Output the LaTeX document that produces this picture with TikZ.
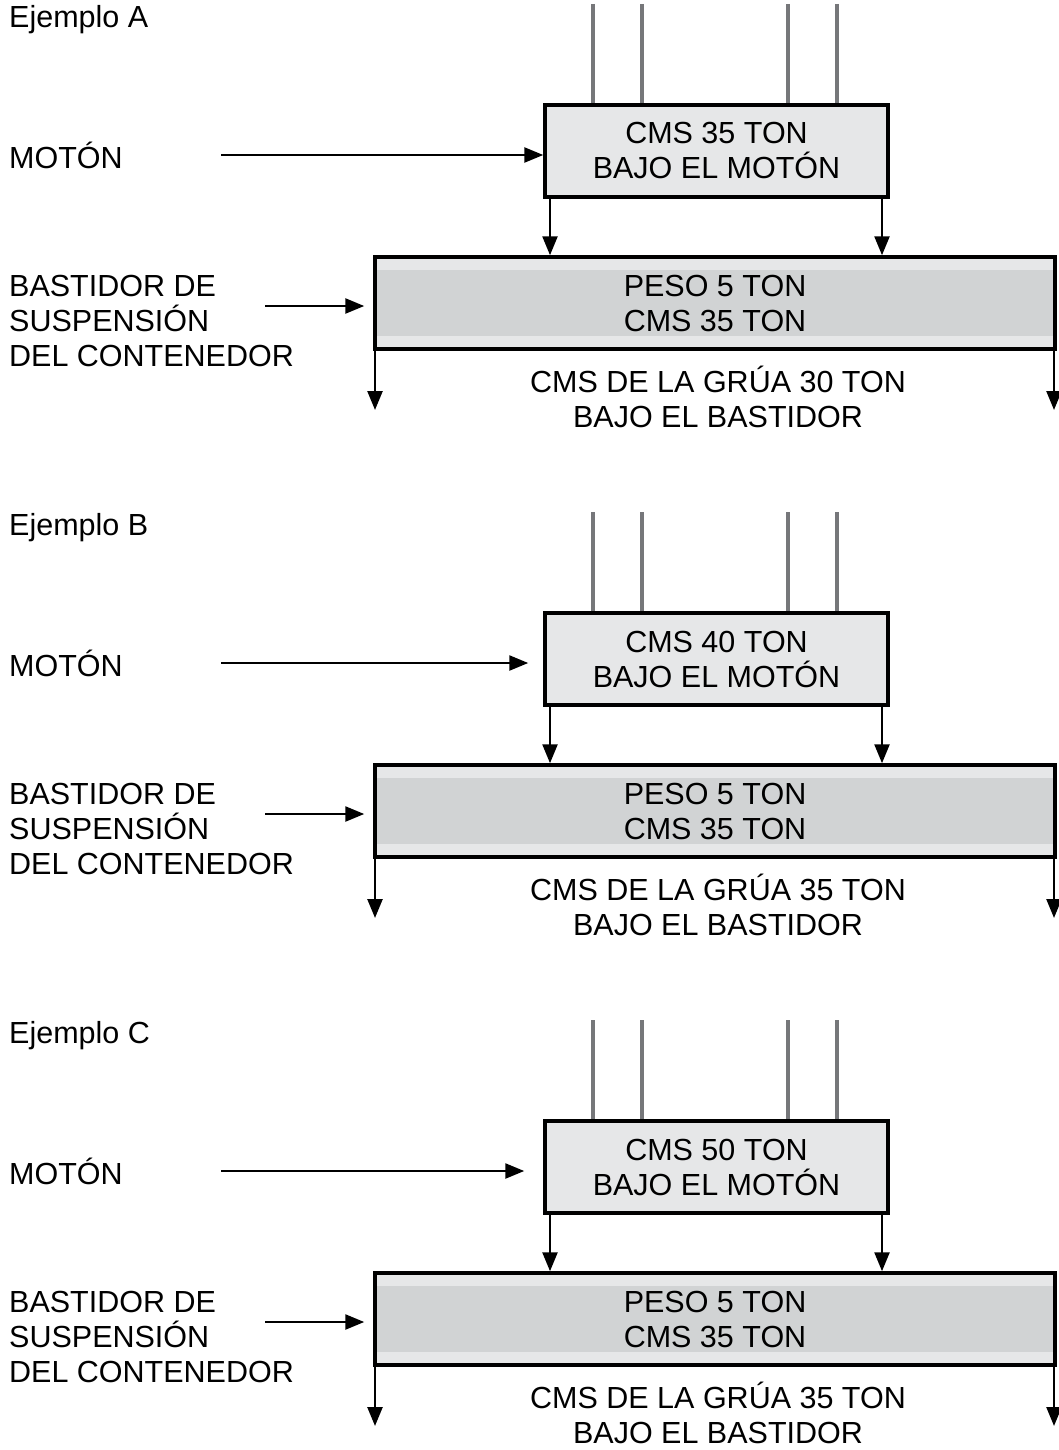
\documentclass[tikz,border=0pt]{standalone}
\usepackage{fontspec}
\setmainfont{Liberation Sans}
\usetikzlibrary{arrows.meta}
\definecolor{lightbox}{HTML}{E6E7E8}
\definecolor{midbox}{HTML}{D1D3D4}
\definecolor{rope}{HTML}{76777A}
\tikzset{
  txt/.style={font=\fontsize{30.5}{35}\selectfont, inner sep=0pt},
  motonbox/.style={draw=black, line width=3.5pt, fill=lightbox, minimum width=343pt, minimum height=92pt, inner sep=0pt, align=center, txt},
  bastbox/.style={draw=black, line width=3.5pt, fill=lightbox, minimum width=680pt, minimum height=92pt, inner sep=0pt, align=center, txt,
    path picture={\fill[midbox] ([yshift=-13pt]path picture bounding box.north west) rectangle ([yshift=13pt]path picture bounding box.south east);}},
  arr/.style={line width=2.5pt, -{Triangle[length=19pt,width=15pt]}},
  ropeline/.style={draw=rope, line width=4pt},
}
\begin{document}
\begin{tikzpicture}[x=1pt,y=-1pt]
\useasboundingbox (0,0) rectangle (1059,1450);
\foreach \ex/\off/\cms/\gru/\sh in {A/0/35/30/0, B/508/40/35/15, C/1016/50/35/19}{
  \begin{scope}[yshift=-\off pt]
    \node[txt, anchor=west] (ej\ex) at (9,20) {Ejemplo \ex};
    \node[motonbox] (m\ex) at (716.5,151) {CMS \cms\ TON\\BAJO EL MOTÓN};
    \foreach \rx [count=\ri] in {593,642,788,837}{
      \coordinate (r\ex\ri) at (\rx,4);
      \draw[ropeline] (r\ex\ri) -- (r\ex\ri |- m\ex.north);
    }
    \node[txt, anchor=west] (lm\ex) at (9,155) {MOTÓN};
    \coordinate (sm\ex) at (221,155);
    \draw[arr, shorten >=\sh pt] (sm\ex) -- (sm\ex -| m\ex.west);
    \node[bastbox] (b\ex) at (715,303) {PESO 5 TON\\CMS 35 TON};
    \node[txt, anchor=west, align=left] (lb\ex) at (9,321) {BASTIDOR DE\\SUSPENSIÓN\\DEL CONTENEDOR};
    \coordinate (sb\ex) at (265,306);
    \draw[arr, shorten >=9pt] (sb\ex) -- (sb\ex -| b\ex.west);
    \coordinate (ml\ex) at (550,197);
    \coordinate (mr\ex) at (882,197);
    \draw[arr] (ml\ex) -- (ml\ex |- b\ex.north);
    \draw[arr] (mr\ex) -- (mr\ex |- b\ex.north);
    \coordinate (bl\ex) at (375,349);
    \coordinate (br\ex) at (1054,349);
    \coordinate (dl\ex) at (375,410);
    \coordinate (dr\ex) at (1054,410);
    \draw[arr] (bl\ex) -- (dl\ex);
    \draw[arr] (br\ex) -- (dr\ex);
    \node[txt, align=center] (g\ex) at (718,397) {CMS DE LA GRÚA \gru\ TON\\BAJO EL BASTIDOR};
  \end{scope}
}
\end{tikzpicture}
\end{document}
